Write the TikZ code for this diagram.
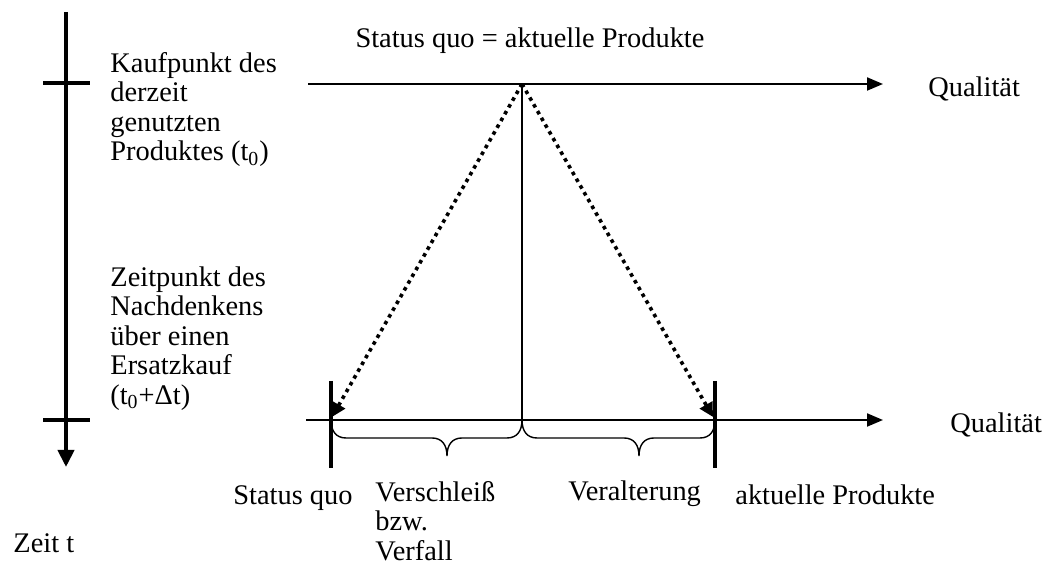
\documentclass[tikz,border=0pt]{standalone}
\usepackage{fontspec}
\setmainfont{Liberation Serif}
\usepackage{tikz}
\usetikzlibrary{arrows.meta, calc}
\tikzstyle{lbl} = [inner sep=0pt, font=\fontsize{14.2}{14.75}\selectfont]
\tikzstyle{axis} = [line width=1pt, -{Triangle[length=8pt, width=6.5pt]}]
\tikzstyle{timeaxis} = [line width=2pt, -{Triangle[length=8.5pt, width=8pt]}]
\tikzstyle{tick} = [line width=2pt]
\tikzstyle{bar} = [line width=1.75pt]
\tikzstyle{drift} = [line width=1.8pt, dash pattern=on 1.8pt off 2.1pt, -{Triangle[length=7pt, width=7pt]}]
\tikzstyle{brace} = [line width=0.7pt]

\begin{document}
\begin{tikzpicture}[x=0.5pt, y=-0.5pt]
    \useasboundingbox (0,0) rectangle (1057,566);
    % time axis with the two points in time
    \coordinate (ztop) at (66,12);
    \coordinate (zend) at (66,467);
    \draw[timeaxis] (ztop) -- (zend);
    \coordinate (t0l) at (43,83);  \coordinate (t0r) at (90,83);
    \coordinate (t1l) at (43,420); \coordinate (t1r) at (90,420);
    \draw[tick] (t0l) -- (t0r);
    \draw[tick] (t1l) -- (t1r);
    \node[lbl, anchor=north west, align=left] (kauf) at (110,52) {Kaufpunkt des\\derzeit\\genutzten\\Produktes (t\textsubscript{0})};
    \node[lbl, anchor=north west, align=left] (nach) at (110,266) {Zeitpunkt des\\Nachdenkens\\über einen\\Ersatzkauf\\(t\textsubscript{0}+Δt)};
    \node[lbl, anchor=base west] (zeit) at (13,553) {Zeit t};

    % quality axes
    \coordinate (qa) at (308,84);  \coordinate (qb) at (883,84);
    \coordinate (ba) at (306,420); \coordinate (bb) at (883,420);
    \coordinate (ap) at (522,84);  \coordinate (bm) at (522,420);
    \draw[axis] (qa) -- (qb);
    \draw[axis] (ba) -- (bb);
    \node[lbl, anchor=base] (title) at (530,48) {Status quo = aktuelle Produkte};
    \node[lbl, anchor=base west] (qtop) at (928,97) {Qualität};
    \node[lbl, anchor=base west] (qbot) at (950,433) {Qualität};

    % status quo and current products
    \coordinate (sqtop) at (331,381); \coordinate (sqbot) at (331,468);
    \coordinate (aktop) at (715,381); \coordinate (akbot) at (715,468);
    \coordinate (sqbase) at (331,420); \coordinate (akbase) at (715,420);
    \draw[bar] (sqtop) -- (sqbot);
    \draw[bar] (aktop) -- (akbot);
    \draw[line width=0.75pt] (ap) -- (bm);
    \coordinate (sqhit) at (332,417);
    \coordinate (akhit) at (713,417);
    \draw[drift] (ap) -- (sqhit);
    \draw[drift] (ap) -- (akhit);

    % braces
    \draw[brace] (sqbase) .. controls (331,431) and (336,438) .. (346,438) -- (432,438)
        .. controls (442,438) and (447,445) .. (447,456) .. controls (447,445) and (452,438) .. (462,438)
        -- (507,438) .. controls (517,438) and (522,431) .. (bm);
    \draw[brace] (bm) .. controls (522,431) and (527,438) .. (537,438) -- (624,438)
        .. controls (634,438) and (639,445) .. (639,456) .. controls (639,445) and (644,438) .. (654,438)
        -- (700,438) .. controls (710,438) and (715,431) .. (akbase);

    \node[lbl, anchor=base west] (sqlbl) at (233,505) {Status quo};
    \node[lbl, anchor=base west] (aklbl) at (735,505) {aktuelle Produkte};
    \node[lbl, anchor=north west, align=left] (versch) at (375,481) {Verschleiß\\bzw.\\Verfall};
    \node[lbl, anchor=base west] (veralt) at (568,501) {Veralterung};
\end{tikzpicture}
\end{document}
